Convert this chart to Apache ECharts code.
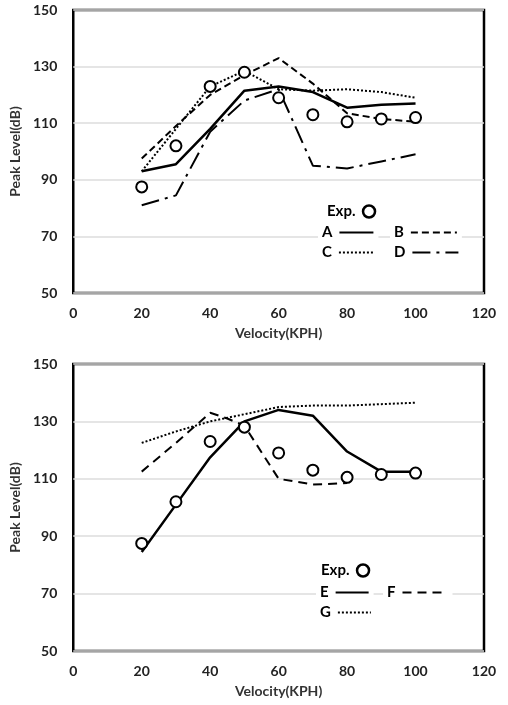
<!DOCTYPE html>
<html lang="en">
<head>
    <meta charset="UTF-8">
    <title>Peak Level vs Velocity</title>
</head>
<body style="margin:0; background:#fff;">

<div id="main" style="width:508px; height:705px;"></div>

<script src="https://cdn.jsdelivr.net/npm/echarts@6/dist/echarts.min.js"></script>
<script>
    // data
    var velocity = [20, 30, 40, 50, 60, 70, 80, 90, 100];
    var expData = [87.5, 102, 123, 128, 119, 113, 110.5, 111.5, 112];

    // top panel
    var seriesA = [93, 95.5, 108, 121.5, 123, 121, 115.5, 116.5, 117];
    var seriesB = [97.5, 109, 120, 127, 133, 124, 113.5, 111.5, 110.5];
    var seriesC = [93, 108, 123, 128.5, 122, 121.5, 122, 121, 119];
    var seriesD = [81, 84.5, 107, 118, 122, 95, 94, 96.5, 99];

    // bottom panel
    var seriesE = [84.5, 101, 117.5, 130, 134, 132, 119.5, 112.5, 112.5];
    var velocityF = [20, 30, 40, 45, 50, 60, 70, 80];
    var seriesF = [112.5, 122.5, 133, 131, 128.5, 110, 108, 108.5];
    var seriesG = [122.5, 126.5, 130, 132.5, 135, 135.5, 135.5, 136, 136.5];

    var xTicks = {min: 0, max: 120, interval: 20};
    var yTicks = {min: 50, max: 150, interval: 20};

    function pairs(xs, ys) {
        return xs.map(function (x, i) { return [x, ys[i]]; });
    }

    var FONT = 'Lato';

    function xAxisFor(idx) {
        return {
            type: 'value', gridIndex: idx,
            min: xTicks.min, max: xTicks.max, interval: xTicks.interval,
            name: 'Velocity(KPH)', nameLocation: 'middle', nameGap: 33,
            nameTextStyle: {fontFamily: FONT, fontWeight: 'bold', fontSize: 14, color: '#333'},
            axisLine: {show: false}, axisTick: {show: false}, splitLine: {show: false},
            axisLabel: {fontFamily: FONT, fontWeight: 'bold', fontSize: 14, color: '#222', margin: 13}
        };
    }
    function yAxisFor(idx) {
        return {
            type: 'value', gridIndex: idx,
            min: yTicks.min, max: yTicks.max, interval: yTicks.interval,
            name: 'Peak Level(dB)', nameLocation: 'middle', nameGap: 44,
            nameTextStyle: {fontFamily: FONT, fontWeight: 'bold', fontSize: 14, color: '#333'},
            axisLine: {show: false}, axisTick: {show: false},
            splitLine: {show: true, lineStyle: {color: '#dcdcdc', width: 1.5}},
            axisLabel: {fontFamily: FONT, fontWeight: 'bold', fontSize: 14, color: '#222', margin: 16}
        };
    }
    function lineSeries(name, idx, xs, ys, type, width) {
        return {
            name: name, type: 'line', xAxisIndex: idx, yAxisIndex: idx,
            symbol: 'none', data: pairs(xs, ys), z: 3,
            itemStyle: {color: '#000'},
            lineStyle: {color: '#000', width: width, type: type}
        };
    }
    function expSeries(idx) {
        return {
            name: 'Exp.', type: 'scatter', xAxisIndex: idx, yAxisIndex: idx,
            symbol: 'circle', symbolSize: 11, z: 4,
            itemStyle: {color: '#fff', borderColor: '#000', borderWidth: 2, opacity: 1},
            data: pairs(velocity, expData)
        };
    }
    function legendFor(names, left, top, iconW, isLine) {
        var lg = {
            data: names, left: left, top: top, orient: 'horizontal', align: 'right',
            itemWidth: iconW, itemHeight: 12, itemGap: 20, padding: [2, 4],
            backgroundColor: '#fff', selectedMode: false,
            textStyle: {fontFamily: FONT, fontWeight: 'bold', fontSize: 15, color: '#000', padding: [0, 2, 0, 0]}
        };
        if (isLine) {
            lg.itemStyle = {opacity: 0};
        } else {
            lg.itemStyle = {color: '#fff', borderColor: '#000', borderWidth: 2.5, opacity: 1};
        }
        return lg;
    }

    var chart = echarts.init(document.getElementById('main'));
    chart.setOption({
        backgroundColor: '#fff',
        animation: false,
        grid: [
            {left: 67, top: 10, width: 417, height: 283, show: true, borderColor: '#000', borderWidth: 2.5, backgroundColor: 'transparent'},
            {left: 67, top: 364, width: 417, height: 287, show: true, borderColor: '#000', borderWidth: 2.5, backgroundColor: 'transparent'}
        ],
        xAxis: [xAxisFor(0), xAxisFor(1)],
        yAxis: [yAxisFor(0), yAxisFor(1)],
        legend: [
            legendFor(['Exp.'], 323, 202, 13, false),
            legendFor(['A'], 318, 223, 34, true),
            legendFor(['B'], 390, 223, 46, true),
            legendFor(['C'], 318, 243, 34, true),
            legendFor(['D'], 390, 243, 46, true),
            legendFor(['Exp.'], 317, 561, 13, false),
            legendFor(['E'], 316, 583, 33, true),
            legendFor(['F'], 383, 583, 45, true),
            legendFor(['G'], 316, 603, 33, true)
        ],
        series: [
            lineSeries('A', 0, velocity, seriesA, 'solid', 2.5),
            lineSeries('B', 0, velocity, seriesB, [7, 4], 2),
            lineSeries('C', 0, velocity, seriesC, [2, 2], 2),
            lineSeries('D', 0, velocity, seriesD, [18, 6, 3, 6], 2),
            expSeries(0),
            lineSeries('E', 1, velocity, seriesE, 'solid', 2.5),
            lineSeries('F', 1, velocityF, seriesF, [9, 6], 2),
            lineSeries('G', 1, velocity, seriesG, [2, 2], 2),
            expSeries(1)
        ]
    });
</script>
</body>
</html>
